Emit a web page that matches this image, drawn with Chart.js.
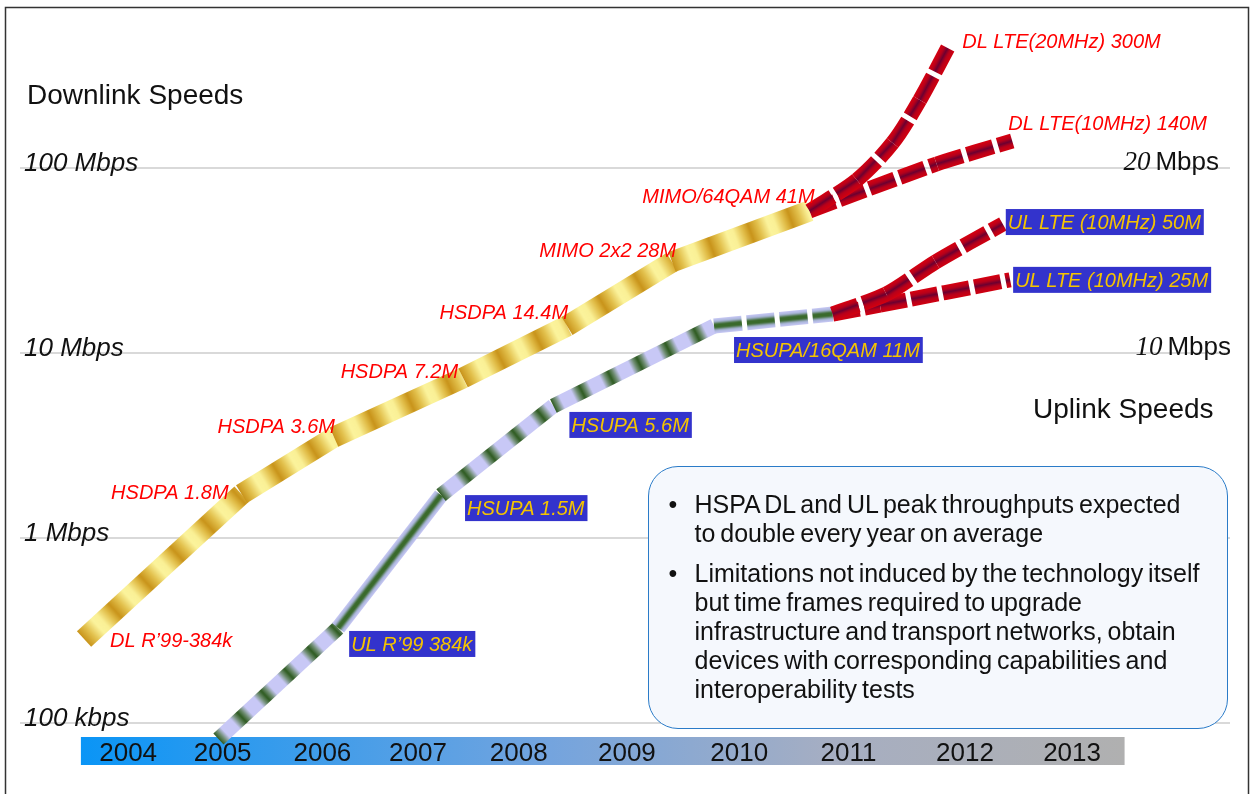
<!DOCTYPE html>
<html lang="en">
<head>
  <meta charset="UTF-8" />
  <title>HSPA / LTE peak throughput evolution</title>
  <script src="https://cdn.jsdelivr.net/npm/chart.js"></script>
  <style>
    body { margin: 0; background: #fff; font-family: "Liberation Sans", Arial, sans-serif; }
    #wrap { position: relative; width: 1251px; height: 794px; overflow: hidden; }
    #chart { position: absolute; left: 0; top: 0; }
    .note {
      position: absolute; left: 648px; top: 466px;
      width: 580px; height: 263px; box-sizing: border-box;
      border: 1.5px solid #2a7bc8; border-radius: 30px;
      background: #f5f8fd;
      padding: 23px 0 0 45.5px;
      font-size: 25px; line-height: 29px; color: #111;
      word-spacing: -2px; white-space: nowrap;
    }
    .note p { margin: 0 0 11px 0; position: relative; }
    .note p::before { content: '\2022'; position: absolute; left: -26px; }
  </style>
</head>
<body>
<div id="wrap">
  <canvas id="chart" width="1251" height="794"></canvas>
  <div class="note">
    <p>HSPA DL and UL peak throughputs expected<br>to double every year on average</p>
    <p>Limitations not induced by the technology itself<br>but time frames required to upgrade<br>infrastructure and transport networks, obtain<br>devices with corresponding capabilities and<br>interoperability tests</p>
  </div>
</div>

<script>
  // timeline (x) - year labels sit at these positions along the time axis
  const years = ['2004', '2005', '2006', '2007', '2008', '2009', '2010', '2011', '2012', '2013'];
  const yearPos = [2004.03, 2004.93, 2005.88, 2006.79, 2007.75, 2008.78, 2009.85, 2010.89, 2012.0, 2013.02];

  // speed axis (Mbps, log)
  const dlTicks = [0.1, 1, 10, 100];
  const dlTickLabels = ['100 kbps', '1 Mbps', '10 Mbps', '100 Mbps'];
  const ulTicks = [10, 100];
  const ulTickLabels = ['10 Mbps', '20 Mbps'];

  // downlink HSPA path
  const dlLabels = ['DL R\u201999-384k', 'HSDPA 1.8M', 'HSDPA 3.6M', 'HSDPA 7.2M', 'HSDPA 14.4M', 'MIMO 2x2 28M', 'MIMO/64QAM 41M'];
  const dlX = [2003.61, 2005.11, 2005.99, 2007.22, 2008.21, 2009.21, 2010.52];
  const dlY = [0.283, 1.72, 3.50, 7.31, 13.96, 31.0, 58.5];

  // uplink HSPA path
  const ulLabels = ['', 'UL R\u201999 384k', 'HSUPA 1.5M', 'HSUPA 5.6M', 'HSUPA/16QAM 11M', ''];
  const ulX = [2004.89, 2006.03, 2007.01, 2008.08, 2009.61, 2010.74];
  const ulY = [0.0815, 0.325, 1.70, 5.16, 13.96, 16.2];

  // LTE branches
  const lteLabels = ['DL LTE(20MHz) 300M', 'DL LTE(10MHz) 140M', 'UL LTE (10MHz) 50M', 'UL LTE (10MHz) 25M'];
  const dl20X = [2010.52, 2010.97, 2011.31, 2011.57, 2011.84];
  const dl20Y = [58.5, 86.0, 136.4, 232.9, 450.7];
  const dl10X = [2010.52, 2011.73, 2012.45];
  const dl10Y = [58.5, 105.0, 139.8];
  const ul50X = [2010.74, 2011.25, 2011.72, 2012.36];
  const ul50Y = [16.2, 20.8, 31.0, 49.7];
  const ul25X = [2010.74, 2011.19, 2012.43];
  const ul25Y = [16.2, 18.1, 24.8];

  const SANS = '"Liberation Sans", Arial, sans-serif';
  const pts = (xs, ys) => xs.map((x, i) => ({ x: x, y: ys[i] }));

  // small gradient tiles used as rotated patterns on each line segment
  function tile(w, h, along, stops) {
    const c = document.createElement('canvas');
    c.width = w; c.height = h;
    const g = c.getContext('2d');
    const grad = along ? g.createLinearGradient(0, 0, w, 0) : g.createLinearGradient(0, 0, 0, h);
    stops.forEach(s => grad.addColorStop(s[0], s[1]));
    g.fillStyle = grad;
    g.fillRect(0, 0, w, h);
    return c;
  }
  const goldBands = tile(42, 4, true, [[0, '#c8931a'], [0.22, '#e2c04c'], [0.45, '#fbf39c'], [0.62, '#faf096'], [0.85, '#e0bb46'], [1, '#c8931a']]);
  const ulBands = tile(32, 4, true, [[0, '#2d5a1f'], [0.14, '#6f8d72'], [0.3, '#c8c8f6'], [0.7, '#c8c8f6'], [0.86, '#6f8d72'], [1, '#2d5a1f']]);
  const ulAcross = tile(4, 15, false, [[0, '#c8c8f6'], [0.2, '#a8b4d8'], [0.4, '#3a6a2c'], [0.6, '#3a6a2c'], [0.8, '#a8b4d8'], [1, '#c8c8f6']]);
  const lteAcross = tile(4, 15, false, [[0, '#d8000f'], [0.28, '#b8001a'], [0.5, '#6c0030'], [0.72, '#b8001a'], [1, '#d0000f']]);

  function segPattern(c, img, across) {
    const p0 = c.p0, p1 = c.p1;
    const ang = Math.atan2(p1.y - p0.y, p1.x - p0.x) * 180 / Math.PI;
    const pat = c.chart.ctx.createPattern(img, 'repeat');
    let m = new DOMMatrix().translate(p0.x, p0.y).rotate(ang);
    if (across) m = m.translate(0, -img.height / 2);
    pat.setTransform(m);
    return pat;
  }

  const ulKind = ['band', 'across', 'band', 'band', 'across'];

  function lteSet(data, tension) {
    return {
      data: data,
      borderWidth: 15,
      borderColor: '#a00020',
      borderDash: [27, 5],
      tension: tension,
      segment: { borderColor: c => segPattern(c, lteAcross, true) }
    };
  }

  const datasets = [
    lteSet(pts(dl20X, dl20Y), 0.3),
    lteSet(pts(dl10X, dl10Y), 0.2),
    lteSet(pts(ul50X, ul50Y), 0.25),
    lteSet(pts(ul25X, ul25Y), 0.2),
    {
      data: pts(dlX, dlY),
      borderWidth: 21,
      borderColor: '#e0bb46',
      segment: { borderColor: c => segPattern(c, goldBands, false) }
    },
    {
      data: pts(ulX, ulY),
      borderWidth: 15,
      borderColor: '#c8c8f6',
      segment: {
        borderColor: c => ulKind[c.p0DataIndex] === 'band' ? segPattern(c, ulBands, false) : segPattern(c, ulAcross, true),
        borderDash: c => c.p0DataIndex === 4 ? [28, 5] : undefined
      }
    }
  ];
  datasets.forEach(ds => Object.assign(ds, {
    pointRadius: 0, pointHoverRadius: 0, fill: false, clip: false,
    borderCapStyle: 'butt', tension: ds.tension || 0
  }));

  // frame, year strip
  const backdrop = {
    id: 'backdrop',
    beforeDraw(chart) {
      const { ctx, chartArea } = chart;
      const xs = chart.scales.x;
      ctx.save();
      ctx.strokeStyle = '#333';
      ctx.lineWidth = 1.5;
      ctx.strokeRect(5.5, 7.5, 1243, 800);
      const x0 = xs.getPixelForValue(2003.58), x1 = xs.getPixelForValue(2013.52);
      const g = ctx.createLinearGradient(x0, 0, x1, 0);
      g.addColorStop(0, '#0a95f6');
      g.addColorStop(0.45, '#74a4de');
      g.addColorStop(0.72, '#a6aec2');
      g.addColorStop(1, '#b0b0b0');
      ctx.fillStyle = g;
      ctx.fillRect(x0, chartArea.bottom + 7, x1 - x0, 28);
      ctx.restore();
    }
  };

  // captions next to the points, titles and the uplink scale labels
  const captions = {
    id: 'captions',
    afterDatasetsDraw(chart) {
      const { ctx, chartArea } = chart;
      const P = (ds, i) => chart.getDatasetMeta(ds).data[i];
      ctx.save();
      ctx.textBaseline = 'alphabetic';

      const red = (text, p, dx, dy, align) => {
        ctx.font = 'italic 20px ' + SANS;
        ctx.fillStyle = '#ff0000';
        ctx.textAlign = align;
        ctx.fillText(text, p.x + dx, p.y + dy);
      };
      const blue = (text, p, dx, dy) => {
        ctx.font = 'italic 20px ' + SANS;
        ctx.textAlign = 'left';
        const w = ctx.measureText(text).width + 5;
        ctx.fillStyle = '#3333cc';
        ctx.fillRect(p.x + dx, p.y + dy, w, 26);
        ctx.fillStyle = '#f5c400';
        ctx.fillText(text, p.x + dx + 2, p.y + dy + 20);
      };

      const dlPos = [[26, 8, 'left'], [-13, 5, 'right'], [1, -4, 'right'], [-5, 0, 'right'], [1, -7, 'right'], [4, -5, 'right'], [5, -8, 'right']];
      dlLabels.forEach((t, i) => red(t, P(4, i), dlPos[i][0], dlPos[i][1], dlPos[i][2]));

      const ulPos = [null, [11, 3], [24, 0], [16, 6], [20, 11], null];
      ulLabels.forEach((t, i) => { if (t) blue(t, P(5, i), ulPos[i][0], ulPos[i][1]); });

      red(lteLabels[0], P(0, dl20X.length - 1), 14, 1, 'left');
      red(lteLabels[1], P(1, dl10X.length - 1), -4, -11, 'left');
      blue(lteLabels[2], P(2, ul50X.length - 1), 3, -15);
      blue(lteLabels[3], P(3, ul25X.length - 1), 3, -13);

      // uplink scale on the right: serif italic number + sans unit
      const ys = chart.scales.y;
      const ends = [1, -11];
      ulTicks.forEach((v, i) => {
        const parts = ulTickLabels[i].split(' ');
        const y = ys.getPixelForValue(v) + 2;
        const xr = chartArea.right + ends[i];
        ctx.fillStyle = '#111';
        ctx.textAlign = 'right';
        ctx.font = '26px ' + SANS;
        ctx.fillText(parts[1], xr, y);
        const uw = ctx.measureText(parts[1]).width;
        ctx.font = 'italic 27px "Liberation Serif", "Times New Roman", serif';
        ctx.fillText(parts[0], xr - uw - 5, y);
      });

      ctx.font = '28px ' + SANS;
      ctx.fillStyle = '#111';
      ctx.textAlign = 'left';
      ctx.fillText('Downlink Speeds', 27, 104);
      ctx.fillText('Uplink Speeds', 1033, 418);
      ctx.restore();
    }
  };

  Chart.defaults.font.family = SANS;

  new Chart(document.getElementById('chart'), {
    type: 'line',
    data: { datasets: datasets },
    options: {
      responsive: false,
      animation: false,
      events: [],
      layout: { padding: { left: 20, right: 21, top: 30, bottom: 24 } },
      plugins: { legend: { display: false }, tooltip: { enabled: false } },
      scales: {
        x: {
          type: 'linear',
          min: 2003,
          max: 2014.524,
          bounds: 'data',
          grid: { display: false },
          border: { display: false },
          afterFit: s => { s.height = 40; },
          afterBuildTicks: s => { s.ticks = yearPos.map(v => ({ value: v })); },
          ticks: {
            autoSkip: false,
            maxRotation: 0,
            padding: 0,
            color: '#111',
            font: { size: 26 },
            callback: (v, i) => years[i]
          }
        },
        y: {
          type: 'logarithmic',
          min: 0.09121,
          max: 556.9,
          bounds: 'data',
          grid: { color: '#d9d9d9', lineWidth: 2, drawTicks: false },
          border: { display: false },
          afterFit: s => { s.width = 0; },
          afterBuildTicks: s => { s.ticks = dlTicks.map(v => ({ value: v })); },
          ticks: {
            mirror: true,
            padding: 4,
            labelOffset: -4,
            color: '#111',
            font: { size: 26, style: 'italic' },
            callback: (v, i) => dlTickLabels[i]
          }
        }
      }
    },
    plugins: [backdrop, captions]
  });
</script>
</body>
</html>
